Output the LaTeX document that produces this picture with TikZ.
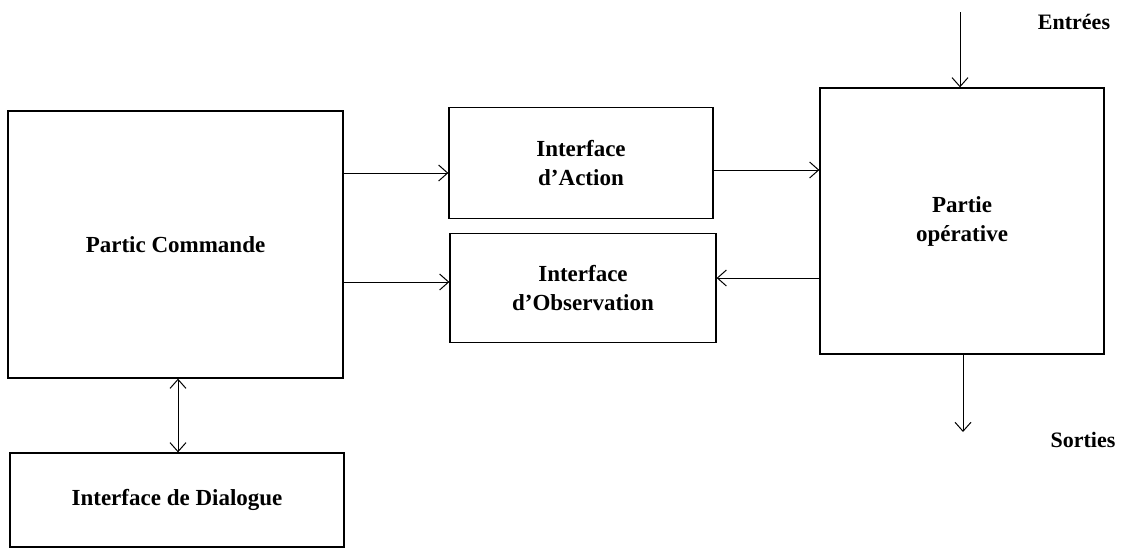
\documentclass[tikz,border=0pt]{standalone}
\usepackage{fontspec}
\setmainfont{Liberation Serif}
\usetikzlibrary{arrows.meta}
\begin{document}
\begin{tikzpicture}[x=1pt,y=-1pt,
  blk/.style={draw, line width=1.3pt, inner sep=0pt, font=\bfseries\fontsize{23}{29}\selectfont, align=center},
  arr/.style={line width=1pt, -{Straight Barb[length=9pt,width=16pt,line width=1pt]}},
  lbl/.style={font=\bfseries\fontsize{22}{26}\selectfont}]
\useasboundingbox (0,0) rectangle (1124,550);
\node[blk, minimum width=335pt, minimum height=267pt] (pc) at (175.5,244.5) {Partic Commande};
\node[blk, minimum width=264pt, minimum height=111pt] (ia) at (581,163) {Interface\\d'Action};
\node[blk, minimum width=266pt, minimum height=109pt] (io) at (583,288) {Interface\\d'Observation};
\node[blk, minimum width=284pt, minimum height=266pt] (po) at (962,221) {Partie\\opérative};
\node[blk, minimum width=334pt, minimum height=94pt] (id) at (177,500) {Interface de Dialogue};
\node[lbl] (ent) at (1074,22) {Entrées};
\node[lbl] (sor) at (1083,440) {Sorties};
\coordinate (ein) at (960,12);
\coordinate (sout) at (963,432);
\draw[arr] (pc.east |- 0,173) -- (ia.west |- 0,173);
\draw[arr] (pc.east |- 0,282) -- (io.west |- 0,282);
\draw[arr] (ia.east |- 0,170) -- (po.west |- 0,170);
\draw[arr] (po.west |- 0,278) -- (io.east |- 0,278);
\draw[arr] (ein) -- (ein |- po.north);
\draw[arr] (sout |- po.south) -- (sout);
\draw[arr, {Straight Barb[length=9pt,width=16pt,line width=1pt]}-{Straight Barb[length=9pt,width=16pt,line width=1pt]}] (178,0 |- pc.south) -- (178,0 |- id.north);
\end{tikzpicture}
\end{document}
